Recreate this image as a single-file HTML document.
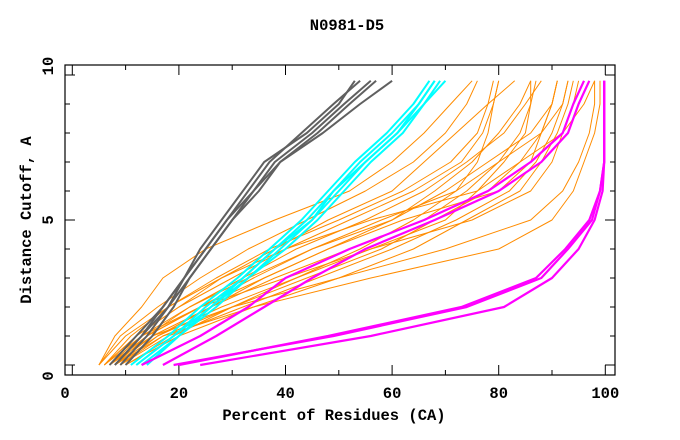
<!DOCTYPE html>
<html><head><meta charset="utf-8"><style>
body{margin:0;background:#fff;}
svg{display:block;font-family:"Liberation Mono",monospace;font-weight:bold;}
</style></head><body>
<svg id="chart" width="680" height="440" viewBox="0 0 680 440">
<text x="347" y="30" text-anchor="middle" font-size="15.5">N0981-D5</text>
<rect x="65" y="65" width="550" height="310" fill="none" stroke="#000" stroke-width="1.2"/>
<g id="ticks"></g>
<g id="series"></g>
<text x="334" y="420" text-anchor="middle" font-size="15.5">Percent of Residues (CA)</text>
<text transform="translate(31,220) rotate(-90)" text-anchor="middle" font-size="15.5">Distance Cutoff, A</text>
</svg>
<script>
const levels=[0,1,2,3,4,5,6,7,8,9,9.8];
const xTicks=[0,20,40,60,80,100];
const xMinor=[10,30,50,70,90];
const yTicks=[0,5,10];
const yMinor=[1,2,3,4,6,7,8,9];
const orange=[
[5,8,13,17,25,38,52,60,66,71,75],
[5,9,16,24,33,44,55,64,70,74,76],
[6,11,18,27,37,50,62,71,76,78,79],
[6,12,20,30,40,52,64,73,77,79,80],
[7,13,22,33,45,58,72,76,78,79,80],
[7,14,24,36,48,60,68,75,80,84,86],
[8,15,26,38,52,66,74,80,84,86,87],
[8,16,28,42,56,70,76,81,85,86,86],
[9,17,30,44,58,68,78,84,88,90,91],
[9,18,32,46,60,72,82,87,90,92,93],
[10,20,34,50,64,74,84,88,91,93,94],
[6,13,24,40,56,75,86,90,92,94,95],
[7,15,30,50,70,86,92,95,97,98,98],
[8,17,34,56,80,90,94,96,98,99,99],
[6,12,20,28,38,48,60,66,72,78,83],
[7,14,22,32,42,55,66,74,81,85,88],
[10,19,30,42,54,64,72,80,88,92,93],
[5,10,18,28,40,56,76,84,92,96,98],
[8,14,24,34,45,60,70,78,86,90,91],
[9,16,26,36,48,62,80,86,88,90,91]];
const cyan=[
[12,19,25,32,38,44,49,54,60,65,68],
[11,18,24,31,37,43,48,53,59,64,67],
[13,20,26,33,39,45,50,55,61,66,69],
[12,19,26,32,38,45,49,55,61,65,68],
[14,20,27,33,40,46,51,56,62,66,70]];
const magenta=[
[13,24,33,40,52,66,78,86,92,94,96],
[17,27,36,45,55,68,80,88,93,95,97],
[19,49,74,88,93,97.5,99,99.8,99.8,99.8,99.8],
[20,48,73,87,92.5,97,99,99.8,99.8,99.8,99.8],
[24,56,81,90,95,98,99.5,99.8,99.8,99.8,99.8]];
const gray=[
[7,12,17,21,25,29,33,37,43,49,54],
[8,13,18,22,26,30,34,38,45,51,56],
[9,14,18,21,24,28,32,36,44,50,53],
[10,15,19,22,26,30,35,39,47,54,60],
[8,13,17,21,25,29,34,39,46,52,57]];
const NS='http://www.w3.org/2000/svg';
function xs(v){return 72.3+v*5.33;}
function ys(v){return 365-v*29;}
const tg=document.getElementById('ticks');
function line(x1,y1,x2,y2){const l=document.createElementNS(NS,'line');l.setAttribute('x1',x1);l.setAttribute('y1',y1);l.setAttribute('x2',x2);l.setAttribute('y2',y2);l.setAttribute('stroke','#000');l.setAttribute('stroke-width','1');return l;}
function txt(x,y,s,anchor,rot){const t=document.createElementNS(NS,'text');t.setAttribute('x',x);t.setAttribute('y',y);t.setAttribute('font-size','15.5');t.setAttribute('text-anchor',anchor);if(rot)t.setAttribute('transform','rotate(-90 '+x+' '+y+')');t.textContent=s;return t;}
xTicks.forEach(v=>{
  const x=xs(v);
  const a=line(x,375,x,365);
  
  
  tg.appendChild(a);
  const b=line(x,65,x,75);
  
  
  tg.appendChild(b);
  const t=txt(v===0?65:x,398,String(v),'middle');
  
  
  tg.appendChild(t);
});
xMinor.forEach(v=>{
  const x=xs(v);
  const a=line(x,375,x,370);
  
  
  tg.appendChild(a);
  const b=line(x,65,x,70);
  
  
  tg.appendChild(b);
});
yTicks.forEach(v=>{
  const y=ys(v);
  const a=line(65,y,75,y);
  
  
  tg.appendChild(a);
  const b=line(615,y,605,y);
  
  
  tg.appendChild(b);
  const t=txt(53,v===0?376:(v===10?66:y),String(v),'middle',true);
  
  
  tg.appendChild(t);
});
yMinor.forEach(v=>{
  const y=ys(v);
  const a=line(65,y,70,y);
  
  
  tg.appendChild(a);
  const b=line(615,y,610,y);
  
  
  tg.appendChild(b);
});
const sg=document.getElementById('series');
function draw(set,color,w,name){
  set.forEach(vals=>{
    const p=document.createElementNS(NS,'polyline');
    p.setAttribute('points',vals.map((v,i)=>xs(v).toFixed(1)+','+ys(levels[i]).toFixed(1)).join(' '));
    p.setAttribute('fill','none');
    p.setAttribute('stroke',color);
    p.setAttribute('stroke-width',w);
    p.setAttribute('stroke-linejoin','round');
    
    
    sg.appendChild(p);
  });
}
draw(orange,'#ff8c00',1,'orange-model-line');
draw(cyan,'#00ffff',2,'cyan-model-line');
draw(magenta,'#ff00ff',2.2,'magenta-model-line');
draw(gray,'#606060',2,'gray-model-line');
</script>
</body></html>
